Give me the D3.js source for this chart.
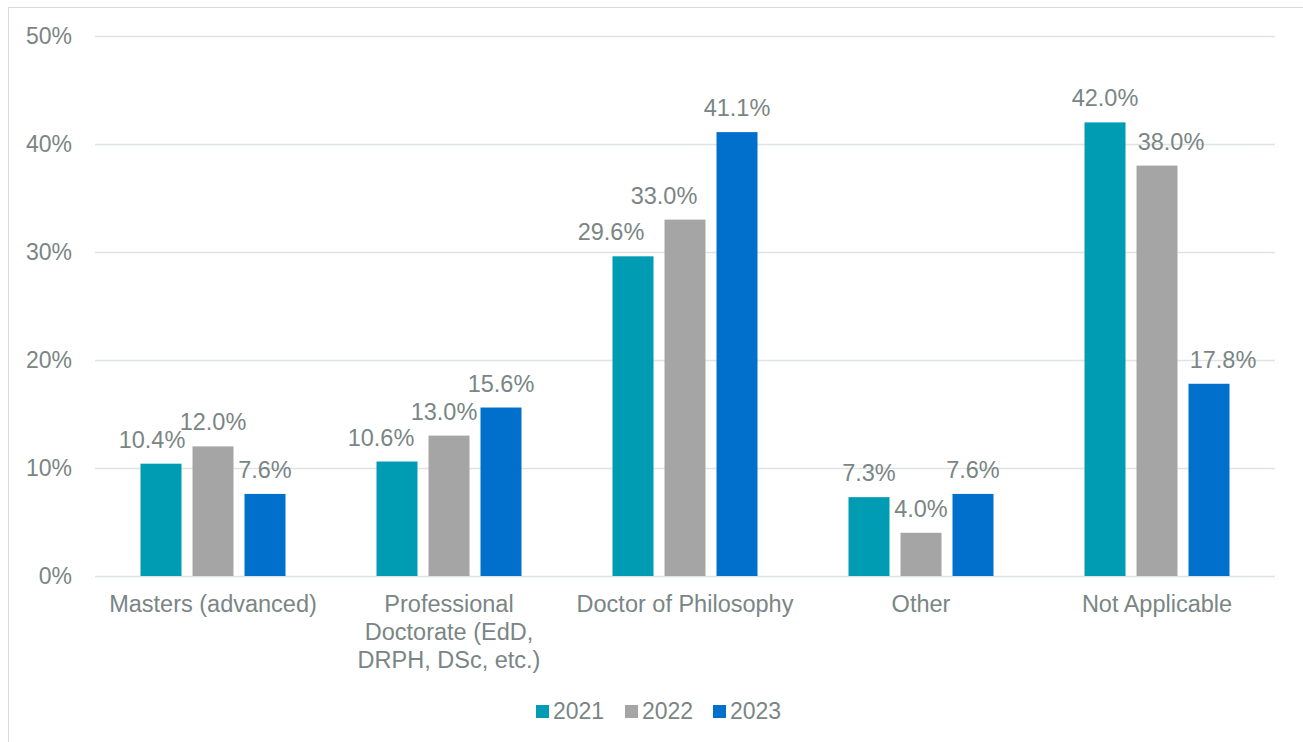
<!DOCTYPE html>
<html>
<head>
<meta charset="utf-8">
<script src="https://cdn.jsdelivr.net/npm/d3@7"></script>
<style>
  html, body { margin: 0; padding: 0; background: #ffffff; }
  svg { display: block; font-family: "Liberation Sans", Arial, sans-serif; }
</style>
</head>
<body>
<svg id="chart" width="1303" height="742"></svg>
<script>
// ---- Data ----
const categories = [
  "Masters (advanced)",
  "Professional Doctorate (EdD, DRPH, DSc, etc.)",
  "Doctor of Philosophy",
  "Other",
  "Not Applicable"
];
const seriesNames = ["2021", "2022", "2023"];
const values2021 = [10.4, 10.6, 29.6, 7.3, 42.0];
const values2022 = [12.0, 13.0, 33.0, 4.0, 38.0];
const values2023 = [7.6, 15.6, 41.1, 7.6, 17.8];
const yTicks = [0, 10, 20, 30, 40, 50];

// ---- Styling / layout (not data) ----
const colors = { "2021": "#009CB4", "2022": "#A5A5A5", "2023": "#0070CC" };
const textColor = "#7A8585";
const gridColor = "#E0E3E3";
// category label line breaks, as wrapped in the original
const categoryLines = [
  ["Masters (advanced)"],
  ["Professional", "Doctorate (EdD,", "DRPH, DSc, etc.)"],
  ["Doctor of Philosophy"],
  ["Other"],
  ["Not Applicable"]
];
// manual horizontal nudges of data labels (px), as placed in the original
const labelNudge = [
  [-9, 0, 0],
  [-16, -5, 0],
  [-22, -21, 0],
  [0, 0, 0],
  [0, 14, 14]
];

const seriesValues = [values2021, values2022, values2023];

const svg = d3.select("#chart");

// outer border (chart area frame)
svg.append("rect")
  .attr("x", 8.5).attr("y", 7.5)
  .attr("width", 1400).attr("height", 800)
  .attr("fill", "none").attr("stroke", "#D9D9D9").attr("stroke-width", 1);

const plot = { left: 95, right: 1275, top: 36, bottom: 576 };

const y = d3.scaleLinear().domain([0, 50]).range([plot.bottom, plot.top]);
const x0 = d3.scaleBand().domain(d3.range(categories.length))
  .range([plot.left, plot.right]).padding(0);
const x1 = d3.scaleBand().domain(seriesNames)
  .range([0, x0.bandwidth()]).paddingInner(0.2115).paddingOuter(0.875);

// gridlines
svg.append("g").selectAll("line").data(yTicks).join("line")
  .attr("x1", plot.left).attr("x2", plot.right)
  .attr("y1", d => Math.round(y(d)) + 0.5).attr("y2", d => Math.round(y(d)) + 0.5)
  .attr("stroke", gridColor).attr("stroke-width", 1.5);

// y axis labels
const yAxis = d3.axisLeft(y).tickValues(yTicks).tickFormat(d => d + "%").tickSize(0).tickPadding(0);
const yG = svg.append("g").attr("transform", `translate(72,0)`).call(yAxis);
yG.select(".domain").remove();
yG.selectAll("text")
  .attr("fill", textColor)
  .style("font-size", "23px")
  .style("font-family", "'Liberation Sans', Arial, sans-serif");

// bars
const groups = svg.append("g").selectAll("g").data(categories).join("g")
  .attr("transform", (d, i) => `translate(${x0(i)},0)`);

groups.each(function(cat, ci) {
  const g = d3.select(this);
  const rows = seriesNames.map((s, si) => ({ s, si, v: seriesValues[si][ci] }));
  g.selectAll("rect").data(rows).join("rect")
    .attr("x", d => x1(d.s))
    .attr("y", d => y(d.v))
    .attr("width", x1.bandwidth())
    .attr("height", d => y(0) - y(d.v))
    .attr("fill", d => colors[d.s]);
  g.selectAll("text.val").data(rows).join("text")
    .attr("class", "val")
    .attr("x", d => x1(d.s) + x1.bandwidth() / 2 + labelNudge[ci][d.si])
    .attr("y", d => y(d.v) - 16)
    .attr("text-anchor", "middle")
    .attr("fill", textColor)
    .style("font-size", "23.5px")
    .text(d => d.v.toFixed(1) + "%");
});

// category labels
const catG = svg.append("g").selectAll("text").data(categories).join("text")
  .attr("x", (d, i) => x0(i) + x0.bandwidth() / 2)
  .attr("y", 612)
  .attr("text-anchor", "middle")
  .attr("fill", textColor)
  .style("font-size", "23.5px");
catG.each(function(d, i) {
  d3.select(this).selectAll("tspan").data(categoryLines[i]).join("tspan")
    .attr("x", x0(i) + x0.bandwidth() / 2)
    .attr("dy", (t, j) => j === 0 ? 0 : 28)
    .text(t => t);
});

// legend
const legendItems = [
  { name: seriesNames[0], x: 536 },
  { name: seriesNames[1], x: 625 },
  { name: seriesNames[2], x: 713 }
];
const leg = svg.append("g").selectAll("g").data(legendItems).join("g")
  .attr("transform", d => `translate(${d.x},0)`);
leg.append("rect").attr("x", 0).attr("y", 705).attr("width", 13).attr("height", 13)
  .attr("fill", d => colors[d.name]);
leg.append("text").attr("x", 17).attr("y", 719)
  .attr("fill", textColor).style("font-size", "23px")
  .text(d => d.name);
</script>
</body>
</html>
